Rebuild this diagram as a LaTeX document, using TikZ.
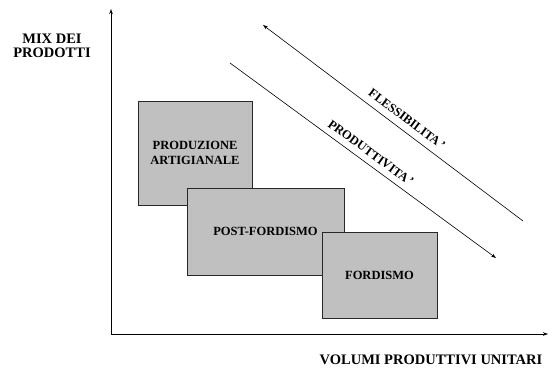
\documentclass[tikz,border=0pt]{standalone}
\usepackage{fontspec}
\setmainfont{Liberation Serif}
\usepackage{tikz}
\usetikzlibrary{arrows.meta}
\definecolor{boxgray}{RGB}{192,192,192}
\definecolor{edgegray}{RGB}{40,40,40}

\tikzset{
    phase/.style={draw=edgegray, fill=boxgray, line width=0.9pt, align=center,
        font=\fontsize{12.5}{15}\selectfont\bfseries, inner sep=0pt},
    axislabel/.style={align=center, font=\fontsize{14.5}{14}\selectfont\bfseries},
    trendlabel/.style={font=\fontsize{12.5}{15}\selectfont\bfseries},
    tip/.style={-{Stealth[length=5pt, width=3.5pt]}}
}

\begin{document}
\begin{tikzpicture}[x=1pt, y=1pt]
    \useasboundingbox (0, 0) rectangle (556, 372);
    % Axes
    \coordinate (O) at (111, 38);
    \coordinate (Ytop) at (111, 363);
    \coordinate (Xend) at (548, 38);
    \draw[tip, line width=0.8pt] (O) -- (Ytop);
    \draw[tip, line width=0.8pt] (O) -- (Xend);
    \node[axislabel] (mix) at (52, 326) {MIX DEI\\PRODOTTI};
    \node[axislabel] (volumi) at (431, 12) {VOLUMI PRODUTTIVI UNITARI};
    % Production systems
    \node[phase, minimum width=114pt, minimum height=104pt] (artig) at (195, 219) {PRODUZIONE\\ARTIGIANALE};
    \node[phase, minimum width=157pt, minimum height=87pt] (postford) at (265.5, 140.5) {POST-FORDISMO};
    \node[phase, minimum width=115pt, minimum height=86pt] (ford) at (379.5, 97) {FORDISMO};
    % Trends
    \coordinate (flexA) at (523, 151);
    \coordinate (flexB) at (263, 347);
    \draw[tip, line width=0.6pt] (flexA) -- (flexB);
    \node[trendlabel, rotate=-37] (flex) at (407, 253) {FLESSIBILITA\,’};
    \coordinate (prodA) at (230, 309);
    \coordinate (prodB) at (496, 114);
    \draw[tip, line width=0.6pt] (prodA) -- (prodB);
    \node[trendlabel, rotate=-36] (prod) at (371, 219) {PRODUTTIVITA\,’};
\end{tikzpicture}
\end{document}
